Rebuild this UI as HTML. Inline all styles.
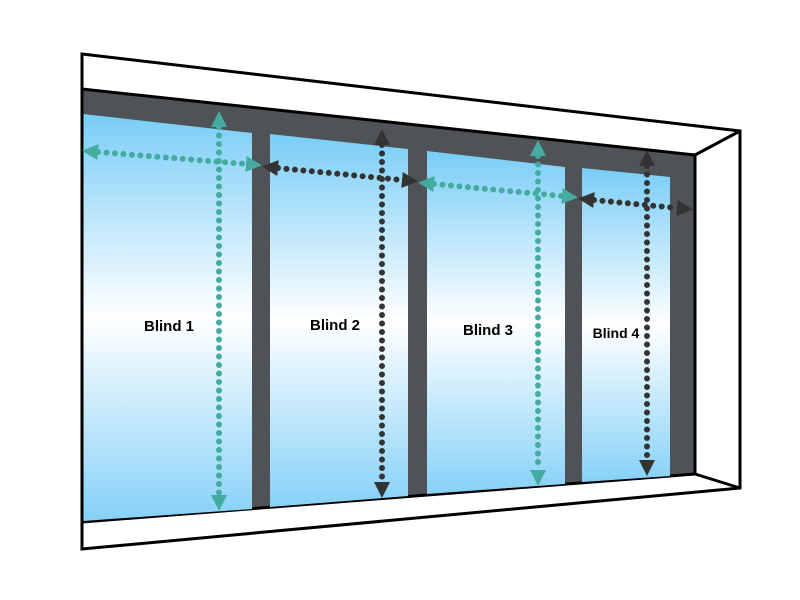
<!DOCTYPE html>
<html><head><style>body{margin:0;background:#fff}svg{display:block}</style></head><body>
<svg width="800" height="600" viewBox="0 0 800 600" xmlns="http://www.w3.org/2000/svg">
<defs>
<linearGradient id="g" x1="0" y1="0" x2="0" y2="1">
<stop offset="0" stop-color="#78cdf7"/><stop offset="0.5" stop-color="#ffffff"/><stop offset="1" stop-color="#86d1f8"/>
</linearGradient>
<marker id="mt" viewBox="0 0 16 16" refX="0" refY="8" markerWidth="16" markerHeight="16" markerUnits="userSpaceOnUse" orient="auto-start-reverse"><path d="M0,0 L16,8 L0,16 z" fill="#45aaa0"/></marker>
<marker id="mb" viewBox="0 0 16 16" refX="0" refY="8" markerWidth="16" markerHeight="16" markerUnits="userSpaceOnUse" orient="auto-start-reverse"><path d="M0,0 L16,8 L0,16 z" fill="#333333"/></marker>
</defs>
<polygon points="82,54 740,131 740,488 82,549" fill="#fff" stroke="#000" stroke-width="3" stroke-linejoin="miter"/>
<polygon points="82,89 695,155 695,474 82,522" fill="#4f5357"/>
<line x1="82" y1="89" x2="695" y2="155" stroke="#000" stroke-width="3"/>
<line x1="82" y1="522" x2="695" y2="474" stroke="#000" stroke-width="3"/>
<line x1="695" y1="155" x2="740" y2="131" stroke="#000" stroke-width="3"/>
<line x1="695" y1="474" x2="740" y2="488" stroke="#000" stroke-width="3"/>
<line x1="695" y1="155" x2="695" y2="474" stroke="#000" stroke-width="3"/>
<polygon points="83,114 252,133 252,509 83,521" fill="url(#g)"/>
<polygon points="270,134 408,149 408,496 270,507" fill="url(#g)"/>
<polygon points="427,151 565,167 565,484 427,494" fill="url(#g)"/>
<polygon points="582,168 670,177 670,476 582,482" fill="url(#g)"/>
<line x1="82" y1="54" x2="82" y2="549" stroke="#000" stroke-width="3"/>
<g fill="none" stroke-width="6" stroke-linecap="round" stroke-dasharray="0 8.5">
<line x1="98" y1="152" x2="246" y2="164" stroke="#45aaa0" marker-start="url(#mt)" marker-end="url(#mt)"/>
<line x1="278" y1="168" x2="402" y2="180" stroke="#333" marker-start="url(#mb)" marker-end="url(#mb)"/>
<line x1="434" y1="184" x2="562" y2="196" stroke="#45aaa0" marker-start="url(#mt)" marker-end="url(#mt)"/>
<line x1="594" y1="200" x2="677" y2="208" stroke="#333" marker-start="url(#mb)" marker-end="url(#mb)"/>
<line x1="219" y1="127" x2="219" y2="495" stroke="#45aaa0" marker-start="url(#mt)" marker-end="url(#mt)"/>
<line x1="382" y1="145" x2="382" y2="482" stroke="#333" marker-start="url(#mb)" marker-end="url(#mb)"/>
<line x1="538" y1="156" x2="538" y2="470" stroke="#45aaa0" marker-start="url(#mt)" marker-end="url(#mt)"/>
<line x1="647" y1="166" x2="647" y2="460" stroke="#333" marker-start="url(#mb)" marker-end="url(#mb)"/>
</g>
<g font-family="Liberation Sans, sans-serif" font-weight="bold" fill="#000">
<text x="169" y="331" font-size="15" text-anchor="middle">Blind 1</text>
<text x="335" y="330" font-size="15" text-anchor="middle">Blind 2</text>
<text x="488" y="335" font-size="15" text-anchor="middle">Blind 3</text>
<text x="616" y="338" font-size="14" text-anchor="middle">Blind 4</text>
</g>
</svg>
</body></html>
